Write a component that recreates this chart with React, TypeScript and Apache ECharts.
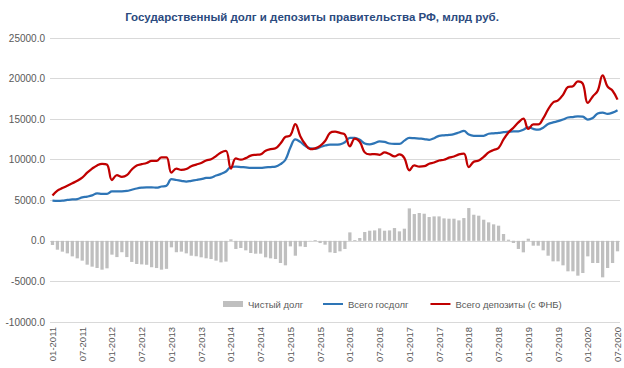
import React, { useEffect, useRef } from "react";
import * as echarts from "echarts";

const startYear = 2011;
const monthCount = 115;
const categories: string[] = Array.from({ length: monthCount }, (_, i) => {
  const m = (i % 12) + 1;
  const y = startYear + Math.floor(i / 12);
  return (m < 10 ? "0" + m : "" + m) + "-" + y;
});

const yTicks = [-10000, 25000, 5000];

const netDebt = [
  -513, -1090, -1330, -1540, -1910, -2155, -2440, -2935, -3180, -3345, -3550, -3385,
  -1700, -2000, -1400, -2000, -2600, -2850, -2900, -2950, -3250, -3350, -3550, -3450,
  -800, -1400, -1330, -1540, -1830, -1900, -2030, -2150, -2240, -2440, -2650, -2560,
  185, -1000, -883, -1170, -1500, -1580, -1580, -2030, -2155, -2240, -2730, -3015,
  -680, -1830, -680, -760, -30, 100, -270, -470, -1415, -1500, -1290, -1000,
  1045, 100, 350, 1090, 1250, 1290, 1540, 1250, 1290, 1580, 1170, 1500,
  4000, 3305, 3430, 3345, 2935, 3015, 3015, 2770, 2730, 2730, 2525, 2810,
  4045, 3220, 3100, 2605, 2280, 2035, 1870, 845, 145, -265, -1000, -1415,
  265, -595, -595, -1170, -1830, -2525, -2525, -3015, -3755, -3755, -4290, -3960,
  -1910, -2730, -2730, -4495, -3345, -2730, -1290,
];

const totalDebt = [
  4950, 4920, 4950, 5050, 5100, 5150, 5350, 5450, 5600, 5850, 5800, 5800,
  6100, 6100, 6100, 6150, 6300, 6450, 6550, 6600, 6600, 6550, 6700, 6800,
  7600, 7500, 7400, 7300, 7400, 7500, 7600, 7750, 7800, 8050, 8250, 8550,
  9100, 9150, 9100, 9050, 9000, 9000, 9000, 9050, 9100, 9150, 9450, 10000,
  11500, 12500, 12200, 11700, 11400, 11350, 11550, 11750, 11850, 11850, 11900, 12150,
  12700, 12700, 12450, 12000, 11900, 12050, 12250, 12200, 12000, 11950, 11950, 12350,
  12700, 12650, 12600, 12550, 12450, 12650, 12950, 13000, 13050, 13150, 13350, 13550,
  13100, 12950, 12950, 12950, 13200, 13250, 13300, 13400, 13450, 13500, 13500, 13700,
  14000, 13800, 13700, 13950, 14400, 14600, 14750, 14950, 15200, 15250, 15350, 15300,
  14950, 15150, 15700, 15800, 15650, 15800, 16100,
];

const totalDeposits = [
  5600, 6200, 6500, 6800, 7100, 7400, 7800, 8400, 8900, 9300, 9500, 9400,
  7500, 8100, 7900, 8100, 8800, 9300, 9450, 9600, 9850, 9850, 10300, 10300,
  8400, 8900, 8750, 8850, 9200, 9400, 9600, 9900, 10050, 10450, 10900, 11100,
  8900, 10150, 10000, 10200, 10500, 10600, 10650, 11100, 11300, 11400, 12000, 12800,
  13000, 14400, 12900, 11900, 11300, 11400, 11700, 12300, 13300, 13450, 13300, 13100,
  11650, 12600, 12200, 10900, 10650, 10700, 10600, 10900, 10700, 10400, 10650, 10200,
  8700, 9300, 9150, 9200, 9500, 9650, 9900, 10000, 10250, 10400, 10650, 10750,
  9100, 9750, 9900, 10350, 10900, 11200, 11450, 12500, 13350, 13950, 14600, 15050,
  13800, 14350, 14350, 15100, 16200, 17050, 17300, 18000, 18950, 19050, 19650, 19350,
  17000, 17800, 18500, 20400, 19000, 18500, 17400,
];

const seriesNames = ["Чистый долг", "Всего госдолг", "Всего депозиты (с ФНБ)"];
const titleText = "Государственный долг и депозиты правительства РФ, млрд руб.";

export default function App() {
  const ref = useRef<HTMLDivElement>(null);
  useEffect(() => {
    if (!ref.current) return;
    const chart = echarts.init(ref.current, undefined, { renderer: "svg" });
    const font = "'Liberation Sans', Arial, sans-serif";
    const legendText = { fontSize: 9.5, color: "#595959", fontFamily: font };
    chart.setOption({
      animation: false,
      backgroundColor: "#ffffff",
      textStyle: { fontFamily: font },
      title: {
        text: titleText,
        left: "center",
        top: 6,
        textStyle: {
          fontSize: 11.5,
          fontWeight: "bold",
          color: "#2B4A7E",
          fontFamily: font,
        },
      },
      legend: [
        {
          left: 218,
          top: 294,
          itemWidth: 20,
          itemHeight: 6,
          textStyle: legendText,
          data: [{ name: seriesNames[0], icon: "rect" }],
        },
        {
          left: 318,
          top: 294,
          itemWidth: 20,
          itemHeight: 2,
          itemGap: 22,
          textStyle: legendText,
          data: [
            { name: seriesNames[1], icon: "rect" },
            { name: seriesNames[2], icon: "rect" },
          ],
        },
      ],
      grid: { left: 50, right: 4, top: 38, bottom: 46 },
      xAxis: {
        type: "category",
        data: categories,
        boundaryGap: true,
        axisLine: { show: false, onZero: false },
        axisTick: { show: false },
        axisLabel: {
          interval: 5,
          rotate: 90,
          margin: 5,
          fontSize: 9.5,
          color: "#595959",
          fontFamily: font,
        },
      },
      yAxis: {
        type: "value",
        min: yTicks[0],
        max: yTicks[1],
        interval: yTicks[2],
        axisLine: { show: false },
        axisTick: { show: false },
        splitLine: { lineStyle: { color: "#D9D9D9", width: 1 } },
        axisLabel: {
          margin: 5,
          fontSize: 10,
          color: "#595959",
          fontFamily: font,
          formatter: (v: number) => v.toFixed(1),
        },
      },
      series: [
        {
          name: seriesNames[0],
          type: "bar",
          data: netDebt,
          barWidth: "66%",
          itemStyle: { color: "#BFBFBF" },
        },
        {
          name: seriesNames[1],
          type: "line",
          data: totalDebt,
          symbol: "none",
          smooth: 0.4,
          lineStyle: { color: "#2E75B6", width: 2.25 },
          itemStyle: { color: "#2E75B6" },
        },
        {
          name: seriesNames[2],
          type: "line",
          data: totalDeposits,
          symbol: "none",
          smooth: 0.4,
          lineStyle: { color: "#C00000", width: 2.25 },
          itemStyle: { color: "#C00000" },
        },
      ],
    });
    return () => chart.dispose();
  }, []);
  return (
    <div
      ref={ref}
      style={{ position: "fixed", left: 0, top: 0, width: 624, height: 368, background: "#fff" }}
    />
  );
}
